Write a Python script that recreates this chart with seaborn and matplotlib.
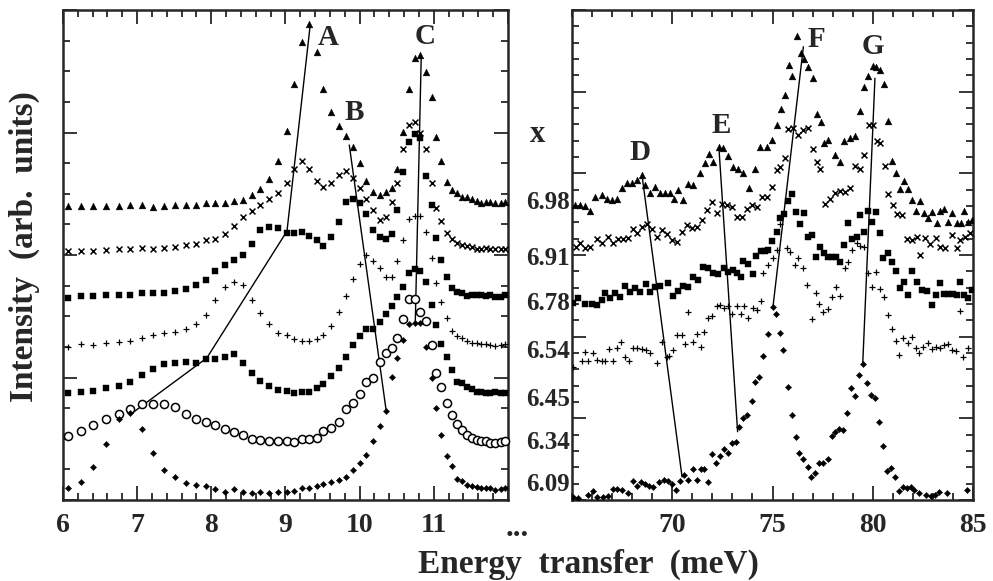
import matplotlib
matplotlib.use("Agg")
import matplotlib.pyplot as plt
from matplotlib.ticker import MultipleLocator, FixedLocator, NullFormatter
from matplotlib.transforms import blended_transform_factory
import seaborn as sns

sns.set_style("ticks")
plt.rcParams["font.family"] = ["Liberation Serif", "DejaVu Serif"]
plt.rcParams["font.weight"] = "bold"
plt.rcParams["axes.linewidth"] = 1.8

# ---------------- low-energy window (6-12 meV) ----------------
E_LEFT = [6.07, 6.24, 6.41, 6.58, 6.75, 6.91, 7.06, 7.22, 7.36, 7.51, 7.66, 7.79,
          7.93, 8.05, 8.18, 8.31, 8.43, 8.55, 8.66, 8.78, 8.90, 9.02, 9.11, 9.22,
          9.32, 9.42, 9.51, 9.62, 9.72, 9.82, 9.91, 10.00, 10.09, 10.18, 10.27,
          10.35, 10.44, 10.51, 10.59, 10.66, 10.75, 10.82, 10.89, 10.97, 11.03,
          11.10, 11.18, 11.25, 11.31, 11.38, 11.45, 11.52, 11.58, 11.63, 11.70,
          11.76, 11.83, 11.90, 11.96]

L_698 = [9.60, 9.60, 9.60, 9.60, 9.60, 9.63, 9.62, 9.58, 9.60, 9.62, 9.62, 9.62,
         9.70, 9.69, 9.70, 9.75, 9.81, 9.95, 10.15, 10.47, 11.08, 12.05, 13.58,
         14.97, 15.53, 14.64, 13.41, 12.68, 12.22, 11.89, 11.54, 11.01, 10.43,
         10.06, 9.95, 10.05, 10.18, 10.81, 12.01, 13.43, 14.42, 14.53, 13.99,
         13.17, 11.84, 11.08, 10.39, 10.11, 10.01, 9.88, 9.88, 9.84, 9.77, 9.69,
         9.74, 9.73, 9.71, 9.71, 9.73]
L_691 = [8.14, 8.14, 8.14, 8.16, 8.21, 8.21, 8.23, 8.19, 8.23, 8.25, 8.32, 8.36,
         8.49, 8.53, 8.68, 8.95, 9.23, 9.44, 9.62, 9.84, 10.03, 10.36, 10.80,
         11.07, 10.80, 10.42, 10.21, 10.34, 10.61, 10.75, 10.52, 10.18, 9.82,
         9.47, 9.14, 9.25, 9.74, 10.34, 11.45, 12.24, 12.35, 11.99, 11.45, 10.36,
         9.52, 9.12, 8.73, 8.51, 8.38, 8.33, 8.29, 8.25, 8.19, 8.19, 8.22, 8.19,
         8.20, 8.20, 8.21]
L_678 = [6.59, 6.66, 6.66, 6.68, 6.70, 6.70, 6.76, 6.76, 6.76, 6.82, 6.88, 7.01,
         7.17, 7.47, 7.67, 7.83, 8.01, 8.35, 8.83, 8.90, 8.88, 8.73, 8.73, 8.76,
         8.62, 8.49, 8.29, 8.60, 9.09, 9.74, 9.82, 9.69, 9.34, 8.82, 8.60, 8.51,
         8.68, 9.47, 10.72, 11.68, 11.95, 11.83, 10.59, 9.63, 8.55, 7.84, 7.29,
         6.91, 6.80, 6.77, 6.66, 6.69, 6.69, 6.69, 6.66, 6.69, 6.64, 6.64, 6.69]
L_654 = [5.01, 5.08, 5.06, 5.12, 5.17, 5.20, 5.28, 5.39, 5.44, 5.50, 5.58, 5.75,
         6.04, 6.53, 6.97, 7.13, 7.02, 6.53, 6.10, 5.75, 5.44, 5.39, 5.25, 5.20,
         5.20, 5.25, 5.39, 5.68, 6.15, 6.67, 7.21, 7.69, 8.00, 7.80, 7.56, 7.27,
         7.28, 7.79, 8.49, 9.17, 9.27, 9.27, 8.76, 7.90, 7.08, 6.46, 5.93, 5.52,
         5.36, 5.28, 5.20, 5.14, 5.12, 5.09, 5.08, 5.06, 5.03, 5.06, 5.09]
L_645 = [3.50, 3.54, 3.57, 3.65, 3.73, 3.86, 4.07, 4.28, 4.43, 4.48, 4.51, 4.48,
         4.59, 4.59, 4.66, 4.76, 4.48, 4.14, 3.90, 3.73, 3.59, 3.56, 3.50, 3.54,
         3.54, 3.65, 3.79, 4.05, 4.30, 4.68, 5.06, 5.36, 5.57, 5.57, 5.82, 6.06,
         6.34, 6.64, 6.97, 7.42, 7.53, 7.49, 7.13, 6.37, 5.71, 5.09, 4.68, 4.24,
         3.86, 3.81, 3.70, 3.61, 3.54, 3.54, 3.50, 3.50, 3.54, 3.48, 3.50]
L_634 = [2.09, 2.26, 2.45, 2.64, 2.81, 2.96, 3.13, 3.13, 3.13, 3.05, 2.81, 2.64,
         2.56, 2.45, 2.31, 2.21, 2.12, 1.98, 1.96, 1.94, 1.93, 1.93, 1.90, 2.00,
         2.00, 2.03, 2.25, 2.36, 2.56, 2.96, 3.18, 3.45, 3.86, 3.97, 4.50, 4.79,
         4.97, 5.30, 5.90, 6.55, 6.55, 6.15, 5.84, 5.06, 4.16, 3.70, 3.16, 2.78,
         2.48, 2.29, 2.12, 2.01, 1.96, 1.94, 1.94, 1.87, 1.85, 1.90, 1.94]
L_609 = [0.38, 0.60, 1.09, 1.82, 2.64, 2.83, 2.32, 1.52, 0.98, 0.76, 0.55, 0.49,
         0.46, 0.35, 0.27, 0.35, 0.27, 0.24, 0.27, 0.24, 0.26, 0.26, 0.30, 0.38,
         0.40, 0.46, 0.51, 0.58, 0.65, 0.76, 0.98, 1.22, 1.47, 1.94, 2.43, 2.92,
         4.03, 4.65, 5.22, 5.75, 5.78, 5.79, 5.01, 3.99, 2.99, 2.12, 1.44, 1.11,
         0.68, 0.63, 0.49, 0.46, 0.41, 0.40, 0.38, 0.38, 0.33, 0.35, 0.38]

# ---------------- high-energy window (65-85 meV) ----------------
E_R698 = [65.15, 65.40, 65.65, 65.90, 66.15, 66.48, 66.73, 66.98, 67.23, 67.48,
          67.73, 67.98, 68.23, 68.48, 68.64, 68.89, 69.14, 69.39, 69.64, 69.89,
          70.09, 70.30, 70.55, 70.80, 71.05, 71.38, 71.63, 71.85, 72.05, 72.35,
          72.55, 72.80, 73.05, 73.29, 73.54, 73.84, 74.13, 74.38, 74.71, 74.96,
          75.21, 75.42, 75.62, 75.82, 75.99, 76.21, 76.40, 76.59, 76.79, 77.00,
          77.20, 77.40, 77.58, 77.78, 78.12, 78.37, 78.58, 78.87, 79.11, 79.36,
          79.58, 79.78, 80.00, 80.16, 80.36, 80.58, 80.78, 80.95, 81.16, 81.36,
          81.57, 81.77, 81.94, 82.16, 82.36, 82.57, 82.74, 82.94, 83.19, 83.35,
          83.57, 83.77, 83.97, 84.19, 84.40, 84.57, 84.77, 84.97]
R_698 = [9.63, 9.63, 9.60, 9.45, 9.90, 9.96, 9.82, 9.80, 9.82, 10.18, 10.34,
         10.34, 10.45, 10.61, 10.29, 10.01, 10.23, 10.01, 10.03, 10.03, 9.82,
         10.12, 9.80, 10.31, 10.29, 10.67, 10.99, 11.30, 11.05, 11.54, 11.48,
         11.23, 10.88, 10.80, 10.67, 10.18, 10.80, 11.54, 11.54, 11.76, 12.24,
         12.76, 13.22, 14.20, 13.84, 15.15, 14.60, 14.39, 14.15, 13.77, 12.60,
         12.33, 11.65, 11.76, 11.27, 11.05, 11.73, 11.81, 11.89, 12.71, 13.48,
         13.84, 14.17, 14.15, 14.04, 13.58, 12.39, 11.08, 10.67, 10.15, 10.43,
         10.15, 9.80, 9.45, 9.76, 9.36, 9.20, 9.41, 9.04, 9.45, 9.49, 9.09, 9.36,
         9.05, 9.04, 9.45, 9.09, 9.14]

E_R691 = [65.20, 65.40, 65.65, 65.90, 66.26, 66.48, 66.81, 67.06, 67.31, 67.56,
          67.81, 68.06, 68.23, 68.48, 68.73, 68.98, 69.22, 69.47, 69.72, 69.97,
          70.22, 70.47, 70.72, 70.97, 71.22, 71.47, 71.72, 71.97, 72.22, 72.47,
          72.72, 72.97, 73.21, 73.46, 73.71, 73.96, 74.21, 74.46, 74.71, 74.96,
          75.21, 75.37, 75.62, 75.79, 76.04, 76.29, 76.54, 76.79, 77.00, 77.20,
          77.37, 77.62, 77.87, 78.12, 78.37, 78.62, 78.87, 79.11, 79.36, 79.56,
          79.83, 80.00, 80.20, 80.36, 80.61, 80.78, 81.00, 81.20, 81.44, 81.69,
          81.94, 82.19, 82.36, 82.61, 82.86, 83.15, 83.35, 83.60, 83.94, 84.19,
          84.35, 84.60, 84.85]
R_691 = [8.25, 8.38, 8.22, 8.25, 8.51, 8.38, 8.58, 8.38, 8.51, 8.51, 8.55, 8.84,
         8.71, 8.92, 9.01, 8.84, 8.60, 8.82, 8.69, 8.49, 8.43, 8.76, 8.98, 8.87,
         8.92, 9.14, 9.47, 9.74, 9.36, 9.67, 9.63, 9.56, 9.23, 9.25, 9.49, 9.63,
         9.58, 9.90, 9.90, 10.23, 10.78, 10.88, 11.16, 12.11, 12.16, 11.92, 12.08,
         12.16, 11.46, 11.05, 10.81, 9.68, 9.83, 10.01, 10.09, 10.07, 10.18, 10.91,
         10.81, 11.27, 12.23, 12.23, 11.72, 11.66, 10.90, 10.00, 9.63, 9.35, 9.29,
         8.51, 8.49, 8.58, 8.00, 8.55, 8.36, 8.55, 8.27, 8.22, 8.65, 8.22, 8.49,
         8.58, 8.71]

E_R678 = [65.06, 65.31, 65.65, 65.98, 66.23, 66.48, 66.65, 66.90, 67.14, 67.39,
          67.64, 67.89, 68.14, 68.39, 68.67, 68.89, 69.14, 69.39, 69.80, 70.06,
          70.29, 70.54, 70.79, 71.05, 71.30, 71.55, 71.80, 72.05, 72.30, 72.58,
          72.80, 73.02, 73.21, 73.41, 73.54, 73.79, 74.01, 74.18, 74.41, 74.63,
          74.79, 74.96, 75.21, 75.37, 75.59, 75.79, 75.99, 76.16, 76.37, 76.59,
          76.76, 76.96, 77.15, 77.37, 77.58, 77.78, 77.95, 78.15, 78.37, 78.58,
          78.78, 78.98, 79.20, 79.36, 79.58, 79.78, 79.98, 80.16, 80.36, 80.53,
          80.78, 80.96, 81.16, 81.36, 81.57, 81.77, 81.94, 82.19, 82.44, 82.69,
          82.94, 83.14, 83.35, 83.57, 83.77, 84.02, 84.19, 84.35, 84.57, 84.77,
          84.95]
R_678 = [6.43, 6.59, 6.40, 6.40, 6.37, 6.53, 6.75, 6.59, 6.75, 6.62, 7.00, 6.80,
         6.91, 6.80, 7.05, 6.79, 6.97, 6.99, 7.10, 6.66, 6.82, 6.99, 6.94, 7.27,
         7.18, 7.62, 7.57, 7.42, 7.38, 7.59, 7.45, 7.51, 7.40, 7.27, 7.80, 7.71,
         7.38, 7.97, 8.14, 8.14, 8.16, 8.47, 8.76, 9.20, 9.34, 9.77, 9.99, 9.41,
         9.01, 9.38, 8.60, 8.65, 7.92, 8.27, 8.08, 7.94, 7.92, 7.94, 7.78, 8.33,
         9.05, 8.51, 8.58, 9.31, 8.76, 9.45, 9.09, 9.41, 8.73, 7.89, 8.06, 7.77,
         7.49, 6.91, 7.13, 6.69, 7.49, 7.13, 6.86, 6.83, 6.37, 6.69, 7.08, 6.73,
         6.73, 6.73, 6.69, 7.13, 6.69, 6.59, 6.86]

E_R654 = [65.06, 65.48, 65.65, 65.81, 66.06, 66.26, 66.48, 66.65, 66.86, 67.06,
          67.26, 67.44, 67.64, 67.86, 68.06, 68.26, 68.48, 68.69, 68.89, 69.22,
          69.47, 69.72, 69.85, 70.05, 70.25, 70.47, 70.64, 70.80, 71.02, 71.22,
          71.42, 71.60, 71.80, 72.00, 72.22, 72.38, 72.58, 72.80, 73.00, 73.21,
          73.41, 73.58, 73.79, 74.01, 74.21, 74.41, 74.54, 74.79, 75.01, 75.21,
          75.37, 75.71, 75.87, 76.12, 76.29, 76.54, 76.71, 76.96, 77.15, 77.33,
          77.53, 77.75, 77.95, 78.15, 78.37, 78.62, 78.79, 78.98, 79.20, 79.36,
          79.58, 79.78, 79.98, 80.16, 80.36, 80.58, 80.75, 80.95, 81.16, 81.32,
          81.52, 81.74, 81.94, 82.14, 82.32, 82.52, 82.74, 82.94, 83.14, 83.35,
          83.57, 83.77, 83.97, 84.14, 84.35, 84.52, 84.77]
R_654 = [4.33, 4.55, 4.84, 4.55, 4.79, 4.57, 4.54, 4.54, 4.92, 4.55, 4.95, 5.16,
         4.68, 4.54, 4.95, 4.95, 4.92, 4.90, 4.81, 4.46, 5.17, 4.66, 4.70, 4.90,
         5.39, 5.39, 5.08, 6.13, 5.15, 5.42, 5.01, 5.50, 5.93, 6.01, 6.33, 6.37,
         6.26, 6.33, 6.07, 6.33, 6.07, 6.33, 5.93, 6.26, 6.20, 6.51, 7.40, 7.67,
         7.90, 8.16, 9.01, 8.22, 8.10, 7.67, 7.89, 7.57, 7.02, 5.90, 6.75, 6.40,
         6.13, 6.23, 6.64, 6.95, 6.66, 7.58, 7.77, 8.16, 8.40, 8.29, 8.27, 7.40,
         6.95, 7.45, 6.89, 6.64, 6.04, 5.57, 5.20, 4.73, 5.28, 5.14, 5.33, 4.95,
         4.79, 5.01, 5.12, 4.92, 5.01, 4.95, 5.06, 5.09, 4.90, 4.88, 6.18, 4.66,
         4.95]

E_R609 = [65.06, 65.31, 65.81, 66.03, 66.26, 66.56, 66.81, 67.03, 67.23, 67.48,
          67.81, 68.03, 68.23, 68.43, 68.64, 68.86, 69.05, 69.35, 69.59, 69.80,
          69.97, 70.19, 70.39, 70.60, 70.80, 71.02, 71.22, 71.42, 71.60, 71.77,
          71.97, 72.18, 72.38, 72.58, 72.80, 73.00, 73.18, 73.34, 73.54, 73.74,
          73.96, 74.13, 74.34, 74.54, 74.76, 75.00, 75.17, 75.36, 75.54, 75.76,
          75.96, 76.16, 76.32, 76.54, 76.76, 76.92, 77.12, 77.33, 77.53, 77.75,
          77.95, 78.12, 78.32, 78.53, 78.72, 78.92, 79.11, 79.33, 79.50, 79.71,
          79.91, 80.11, 80.33, 80.53, 80.70, 80.91, 81.11, 81.31, 81.49, 81.69,
          81.89, 82.07, 82.31, 82.66, 82.91, 83.10, 83.30, 83.69, 84.69]
R_609 = [0.11, 0.06, 0.16, 0.30, 0.11, 0.09, 0.13, 0.35, 0.35, 0.33, 0.22, 0.63,
         0.46, 0.59, 0.52, 0.46, 0.43, 0.59, 0.65, 0.63, 0.52, 0.33, 0.62, 0.82,
         0.65, 1.00, 0.65, 1.00, 1.00, 0.60, 1.50, 1.20, 1.44, 1.66, 1.54, 1.85,
         1.90, 2.37, 2.67, 2.78, 3.24, 3.86, 4.01, 4.70, 5.42, 6.29, 6.06, 5.46,
         4.90, 3.68, 2.78, 2.07, 1.54, 1.33, 1.09, 0.76, 0.89, 1.22, 1.22, 1.33,
         2.09, 2.23, 2.32, 2.29, 2.83, 3.65, 3.40, 4.08, 4.44, 3.81, 3.43, 3.34,
         2.56, 1.76, 0.96, 1.04, 0.76, 0.30, 0.41, 0.38, 0.41, 0.33, 0.24, 0.16,
         0.13, 0.16, 0.26, 0.22, 0.33]

# peak-tracking lines (energy, intensity vertices)
PEAK_LINES_LEFT = {
    "A": ([6.90, 7.94, 9.02, 9.33], [2.78, 4.64, 8.78, 15.44]),
    "B": ([9.86, 10.36], [11.59, 2.87]),
    "C": ([10.83, 10.75], [14.47, 5.81]),
}
PEAK_LINES_RIGHT = {
    "D": ([68.49, 70.49], [10.61, 0.75]),
    "E": ([72.33, 73.26], [11.48, 2.23]),
    "F": ([76.54, 75.02], [14.80, 6.29]),
    "G": ([80.11, 79.50], [13.77, 4.44]),
}
PEAK_LABELS_LEFT = {"A": (9.58, 15.10), "B": (9.93, 12.65), "C": (10.885, 15.15)}
PEAK_LABELS_RIGHT = {"D": (68.39, 11.35), "E": (72.43, 12.24),
                     "F": (77.19, 15.05), "G": (80.01, 14.82)}

# composition x of each curve and the height of its tag
X_VALUES = ["6.98", "6.91", "6.78", "6.54", "6.45", "6.34", "6.09"]
X_TAG_Y = [9.71, 7.90, 6.42, 4.84, 3.27, 1.88, 0.49]

TICKS_LEFT = [6, 7, 8, 9, 10, 11]
TICKS_RIGHT = [70, 75, 80, 85]

# marker style per composition
STYLE = {
    "6.98": dict(marker="^", s=24, color="black", edgecolor="black", linewidth=0.3),
    "6.91": dict(marker="x", s=18, color="black", linewidth=1.1),
    "6.78": dict(marker="s", s=18, color="black", edgecolor="black", linewidth=0.3),
    "6.54": dict(marker="+", s=22, color="black", linewidth=0.9),
    "6.45": dict(marker="s", s=18, color="black", edgecolor="black", linewidth=0.3),
    "6.34": dict(marker="o", s=34, color="white", edgecolor="black", linewidth=1.1),
    "6.09": dict(marker="D", s=10, color="black", edgecolor="black", linewidth=0.3),
}

left_series = [("6.98", L_698), ("6.91", L_691), ("6.78", L_678), ("6.54", L_654),
               ("6.45", L_645), ("6.34", L_634), ("6.09", L_609)]
right_series = [("6.98", E_R698, R_698), ("6.91", E_R691, R_691),
                ("6.78", E_R678, R_678), ("6.54", E_R654, R_654),
                ("6.09", E_R609, R_609)]

W, H = 993, 581
fig = plt.figure(figsize=(W / 100, H / 100), dpi=100)
ax1 = fig.add_axes([63 / W, 81 / H, 445 / W, 490 / H])
ax2 = fig.add_axes([572 / W, 81 / H, 401 / W, 490 / H])

for key, vals in left_series:
    sns.scatterplot(x=E_LEFT, y=vals, ax=ax1, zorder=3, clip_on=False, **STYLE[key])
for key, ev, vals in right_series:
    sns.scatterplot(x=ev, y=vals, ax=ax2, zorder=3, **STYLE[key])

for ax, lines, labels in ((ax1, PEAK_LINES_LEFT, PEAK_LABELS_LEFT),
                          (ax2, PEAK_LINES_RIGHT, PEAK_LABELS_RIGHT)):
    for name, (ex, iy) in lines.items():
        sns.lineplot(x=ex, y=iy, ax=ax, sort=False, estimator=None,
                     color="black", linewidth=1.0, zorder=2)
    for name, (ex, iy) in labels.items():
        ax.text(ex, iy, name, ha="center", va="center", fontsize=21,
                fontweight="bold")

ax1.set_xlim(6, 12)
ax1.set_ylim(0, 16)
ax2.set_xlim(65, 85)
ax2.set_ylim(0, 16)

ax1.xaxis.set_major_locator(FixedLocator([6, 7, 8, 9, 10, 11, 12]))
ax1.set_xticklabels([str(t) for t in TICKS_LEFT] + [""])
ax1.xaxis.set_minor_locator(MultipleLocator(0.2))
ax1.yaxis.set_major_locator(MultipleLocator(4))
ax1.yaxis.set_minor_locator(MultipleLocator(1))

ax2.xaxis.set_major_locator(FixedLocator(TICKS_RIGHT))
ax2.set_xticklabels([str(t) for t in TICKS_RIGHT])
ax2.xaxis.set_minor_locator(MultipleLocator(1))
ax2.yaxis.set_major_locator(MultipleLocator(16 / 6))
ax2.yaxis.set_minor_locator(MultipleLocator(16 / 30))

for ax in (ax1, ax2):
    ax.tick_params(which="both", direction="in", top=True, right=True,
                   width=1.3, labelsize=20, pad=9)
    ax.tick_params(which="major", length=10)
    ax.tick_params(which="minor", length=5)
    ax.yaxis.set_major_formatter(NullFormatter())
    ax.set_xlabel("")
    ax.set_ylabel("")
    for lab in ax.get_xticklabels():
        lab.set_fontweight("bold")

# composition tags in the gap between the two windows
tr = blended_transform_factory(ax2.transAxes, ax2.transData)
for lab, yv in zip(X_VALUES, X_TAG_Y):
    ax2.text(-0.006, yv, lab, transform=tr, ha="right", va="center",
             fontsize=18, fontweight="bold", clip_on=False)
ax2.text(-0.085, 11.93, "x", transform=tr, ha="center", va="center",
         fontsize=22, fontweight="bold", clip_on=False)

fig.text(517 / W, 1 - 536 / H, "...", ha="center", va="baseline",
         fontsize=22, fontweight="bold")
fig.text(588 / W, 1 - 573 / H, "Energy  transfer  (meV)", ha="center",
         va="baseline", fontsize=24, fontweight="bold")
fig.text(24 / W, 1 - 247 / H, "Intensity  (arb.  units)", ha="center",
         va="center", rotation=90, fontsize=24, fontweight="bold")

fig.savefig("out.png", dpi=100)
